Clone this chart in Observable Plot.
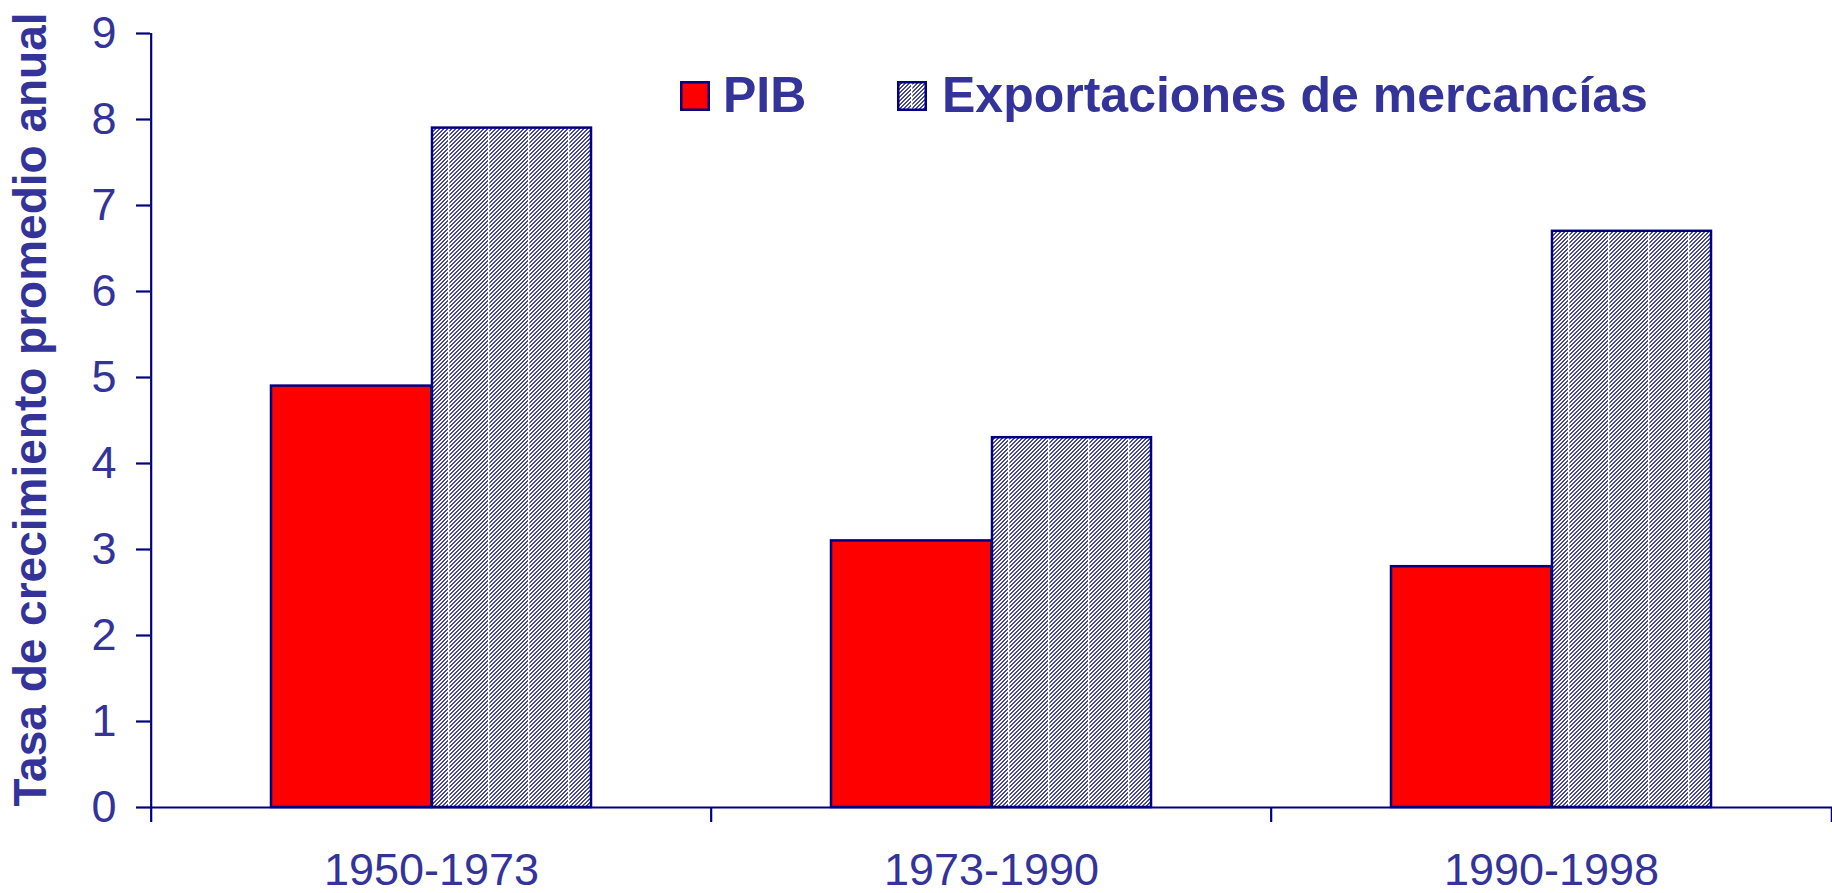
<!DOCTYPE html>
<html><head><meta charset="utf-8">
<script src="https://cdn.jsdelivr.net/npm/d3@7"></script>
<script src="https://cdn.jsdelivr.net/npm/@observablehq/plot@0.6"></script>
<style>
body{margin:0;background:#fff;font-family:"Liberation Sans",Arial,sans-serif;}
#wrap{position:relative;width:1832px;height:893px;}
.legtxt{position:absolute;color:#333399;font-weight:bold;font-size:50px;line-height:1;white-space:nowrap;}
.sw{position:absolute;}
</style></head><body><div id="wrap"></div>
<script>
const periods = ["1950-1973", "1973-1990", "1990-1998"];
const pib = [4.9, 3.1, 2.8];
const exportaciones = [7.9, 4.3, 6.7];
const yTicks = [0, 1, 2, 3, 4, 5, 6, 7, 8, 9];
const seriesNames = ["PIB", "Exportaciones de mercancías"];
const yLabel = "Tasa de crecimiento promedio anual";

const W = 1832, H = 893, mL = 150, mR = 0, mT = 33, mB = 86;
const bw = (W - mL - mR) / periods.length;
const rows = periods.map((p, i) => ({period: p, pib: pib[i], exp: exportaciones[i]}));
const navy = "#000080", txt = "#333399";

const chart = Plot.plot({
  width: W, height: H,
  marginLeft: mL, marginRight: mR, marginTop: mT, marginBottom: mB,
  style: {fontFamily: '"Liberation Sans", Arial, sans-serif', color: txt, background: "white", overflow: "visible"},
  x: {domain: periods, padding: 0},
  y: {domain: [0, 9]},
  marks: [
    Plot.barY(rows, {x: "period", y: "pib", fill: "#ff0000", stroke: navy, strokeWidth: 2.5, insetLeft: 120, insetRight: bw - 281}),
    Plot.barY(rows, {x: "period", y: "exp", fill: "url(#hatch)", stroke: navy, strokeWidth: 2.5, insetLeft: 281, insetRight: 120}),
    Plot.ruleY([0], {stroke: navy, strokeWidth: 2.2}),
    Plot.ruleX([periods[0]], {x: d => d, y1: 0, y2: 9, dx: -bw / 2, stroke: navy, strokeWidth: 2.2}),
    Plot.ruleX(periods, {x: d => d, y1: 0, y2: 0, dx: -bw / 2, insetBottom: -15, stroke: navy, strokeWidth: 2.2}),
    Plot.ruleX([periods[periods.length - 1]], {x: d => d, y1: 0, y2: 0, dx: bw / 2, insetBottom: -15, stroke: navy, strokeWidth: 2.2}),
    Plot.axisY({ticks: yTicks, tickSize: 14, tickPadding: 20, fontSize: 45, stroke: navy, strokeWidth: 2.2, tickFormat: d => String(d), label: null}),
    Plot.axisX({tickSize: 0, tickPadding: 46, fontSize: 45, label: null}),
    Plot.text([yLabel], {text: d => d, frameAnchor: "left", textAnchor: "middle", lineAnchor: "middle", dx: -119, dy: -11, rotate: -90, fontSize: 46, fontWeight: "bold", fill: txt})
  ]
});

// crisp pixel hatch pattern ("/" stripes, 4px period) with faint white columns
let px = "";
for (let y = 0; y < 4; y++) {
  const x = 3 - y;
  px += `<rect x="${x}" y="${y}" width="2" height="1"/>`;
  if (x === 3) px += `<rect x="0" y="${y}" width="1" height="1"/>`;
}
const patterns = (id, off) => `
<pattern id="${id}px" patternUnits="userSpaceOnUse" x="0" y="0" width="4" height="4">
  <rect width="4" height="4" fill="white"/><g fill="#4646a8">${px}</g>
</pattern>
<pattern id="${id}" patternUnits="userSpaceOnUse" x="${off}" y="0" width="40" height="40">
  <rect width="40" height="40" fill="url(#${id}px)"/>
  <rect x="0" y="0" width="1.3" height="40" fill="white"/>
</pattern>`;
d3.select(chart).insert("defs", ":first-child").html(patterns("hatch", 8));
chart.style.position = "absolute";
chart.style.left = "0px";
chart.style.top = "0px";
const wrap = document.getElementById("wrap");
wrap.appendChild(chart);

// legend overlay
const leg = d3.select(wrap);
const items = [
  {name: seriesNames[0], fill: "#ff0000", sx: 680, tx: 723},
  {name: seriesNames[1], fill: "url(#hatchL)", sx: 897, tx: 942}
];
items.forEach((it, i) => {
  const s = leg.append("svg").attr("class", "sw").attr("width", 30).attr("height", 30)
    .style("left", it.sx + "px").style("top", "81px");
  if (i === 1) s.append("defs").html(patterns("hatchL", 14));
  s.append("rect").attr("x", 1.25).attr("y", 1.25).attr("width", 27.5).attr("height", 27.5)
    .attr("fill", it.fill).attr("stroke", navy).attr("stroke-width", 2.5);
  leg.append("div").attr("class", "legtxt").style("left", it.tx + "px").style("top", "70px").text(it.name);
});
</script>
</body></html>
